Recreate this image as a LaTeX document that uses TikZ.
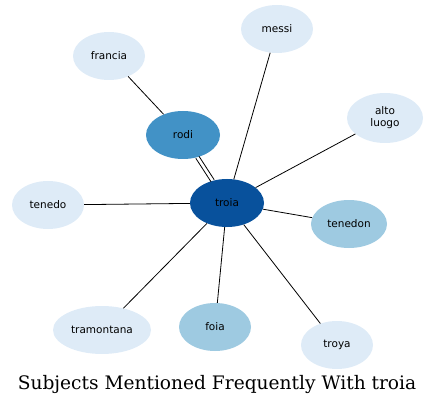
\documentclass[tikz,border=0pt]{standalone}
\usepackage{fontspec}
\newfontfamily\nodefont{DejaVu Sans}
\newfontfamily\titlefont{DejaVu Serif}
\usetikzlibrary{shapes.geometric}
\definecolor{c1}{HTML}{DEEBF7}
\definecolor{c2}{HTML}{9ECAE1}
\definecolor{c3}{HTML}{4292C6}
\definecolor{c4}{HTML}{08519C}
\begin{document}
\begin{tikzpicture}[x=1pt,y=-1pt,
  nd/.style={ellipse,inner sep=0pt,font=\nodefont\fontsize{10.5}{12}\selectfont,align=center},
  ed/.style={draw=black,line width=0.8pt}]
\useasboundingbox (0,0) rectangle (436,406);
\node[nd,fill=c4,minimum width=74,minimum height=48] (troia) at (227,203) {troia};
\node[nd,fill=c3,minimum width=74,minimum height=48] (rodi) at (183,135) {rodi};
\node[nd,fill=c1,minimum width=72,minimum height=48] (francia) at (109,56) {francia};
\node[nd,fill=c1,minimum width=72,minimum height=48] (messi) at (277,29) {messi};
\node[nd,fill=c1,minimum width=76,minimum height=50] (alto) at (385,118) {alto\\luogo};
\node[nd,fill=c1,minimum width=72,minimum height=48] (tenedo) at (48,205) {tenedo};
\node[nd,fill=c2,minimum width=76,minimum height=48] (tenedon) at (349,224) {tenedon};
\node[nd,fill=c1,minimum width=98,minimum height=48] (tramontana) at (102,330) {tramontana};
\node[nd,fill=c2,minimum width=72,minimum height=48] (foia) at (215,327) {foia};
\node[nd,fill=c1,minimum width=72,minimum height=48] (troya) at (337,345) {troya};
\draw[ed] (francia) -- (rodi);
\draw[ed,transform canvas={xshift=-1.6pt,yshift=-1pt}] (rodi) -- (troia);
\draw[ed,transform canvas={xshift=1.6pt,yshift=1pt}] (rodi) -- (troia);
\draw[ed] (messi) -- (troia);
\draw[ed] (alto) -- (troia);
\draw[ed] (tenedo) -- (troia);
\draw[ed] (tenedon) -- (troia);
\draw[ed] (tramontana) -- (troia);
\draw[ed] (foia) -- (troia);
\draw[ed] (troya) -- (troia);
\node (title) at (217,384) {\titlefont\fontsize{18.6}{22}\selectfont Subjects Mentioned Frequently With troia};
\end{tikzpicture}
\end{document}
